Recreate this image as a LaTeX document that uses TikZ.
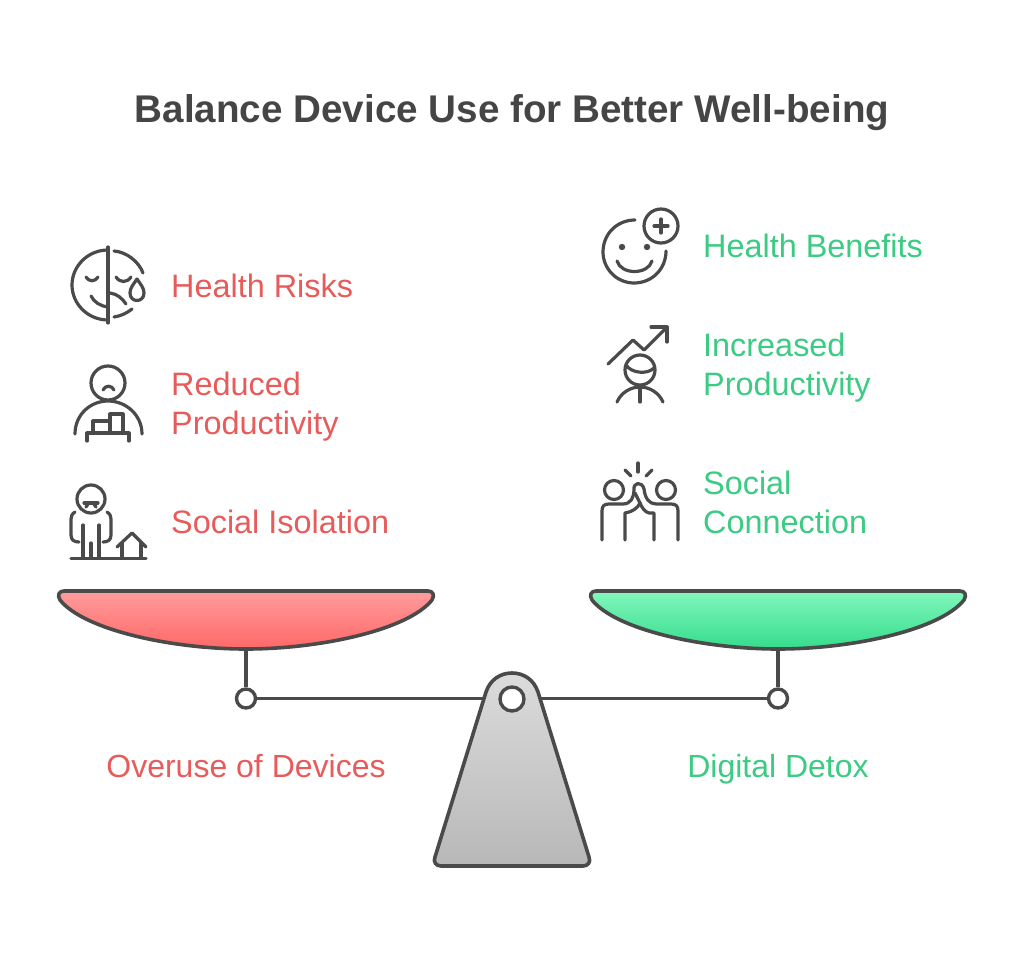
\documentclass[tikz,border=0pt]{standalone}
\usepackage{fontspec}
\usepackage{xcolor}
\setmainfont{Liberation Sans}
\definecolor{linegray}{HTML}{4A4A4A}
\definecolor{titlegray}{HTML}{454545}
\definecolor{riskred}{HTML}{E85B5B}
\definecolor{gaingreen}{HTML}{3CCB82}
\tikzset{
  label/.style={anchor=west,align=left,inner sep=0pt,font=\fontsize{32.4}{39}\selectfont},
  risk/.style={label,text=riskred},
  gain/.style={label,text=gaingreen},
  caption/.style={anchor=base,inner sep=0pt,font=\fontsize{32}{39}\selectfont},
  icon/.style={draw=linegray,line width=3.2pt,line cap=round,line join=round},
  rim/.style={draw=linegray,line width=3.6pt,line join=round},
  pin/.style={circle,draw=linegray,line width=3.4pt,fill=white,minimum size=19pt,inner sep=0pt},
}
\begin{document}
\begin{tikzpicture}[x=1pt,y=-1pt]
  \useasboundingbox[fill=white] (0,0) rectangle (1024,963);
  \node[anchor=base,inner sep=0pt,text=titlegray,font=\fontsize{38.6}{44}\selectfont\bfseries] (title) at (512,122) {Balance Device Use for Better Well-being};

  % left labels
  \node[risk] (healthrisks) at (171,285.5) {Health Risks};
  \node[risk] (reduced) at (171,407) {Reduced\\Productivity};
  \node[risk] (isolation) at (171,522) {Social Isolation};
  % right labels
  \node[gain] (healthbenefits) at (703,246) {Health Benefits};
  \node[gain] (increased) at (703,368) {Increased\\Productivity};
  \node[gain] (connection) at (703,502) {Social\\Connection};
  \node[caption,text=riskred] (overuse) at (246,777) {Overuse of Devices};
  \node[caption,text=gaingreen] (detox) at (778,777) {Digital Detox};

  % beam and fulcrum
  \coordinate (leftpan) at (246,649);
  \coordinate (rightpan) at (778,649);
  \node[pin] (leftpin) at (246,698.5) {};
  \node[pin] (rightpin) at (778,698.5) {};
  \draw[rim] (leftpin) -- (rightpin);
  \draw[rim] (leftpan) -- (leftpin);
  \draw[rim] (rightpan) -- (rightpin);
  \draw[rim,top color=black!14,bottom color=black!28] (486,692)
    .. controls (490,680) and (500,673) .. (512,673)
    .. controls (524,673) and (534,680) .. (538,692)
    -- (589,857) .. controls (591,862) and (588,866) .. (583,866)
    -- (441,866) .. controls (436,866) and (433,862) .. (435,857) -- cycle;
  \node[pin,minimum size=24pt] (hole) at (512,699) {};

  % pans
  \foreach \dx/\topc/\botc in {0/FF9C9C/FF6868,532/82F7BC/34DC8C} {
    \definecolor{pantop}{HTML}{\topc}
    \definecolor{panbot}{HTML}{\botc}
    \draw[rim,xshift=\dx pt,top color=pantop,bottom color=panbot] (64,591) -- (428,591)
      .. controls (433,591) and (435,595) .. (432,600)
      .. controls (408,630) and (320,649) .. (246,649)
      .. controls (172,649) and (84,630) .. (60,600)
      .. controls (57,595) and (59,591) .. (64,591) -- cycle;
  }

  % health risks
  \draw[icon] (108,247) -- (108,323);
  \draw[icon] (108,250) .. controls (88,250) and (72,266) .. (72,285)
    .. controls (72,304) and (88,320) .. (108,320);
  \draw[icon] (114,251) .. controls (127,252) and (139,262) .. (143,273);
  \draw[icon] (114,317) .. controls (121,316) and (127,313) .. (132,309);
  \draw[icon] (86,277) .. controls (89,282) and (95,282) .. (98,277);
  \draw[icon] (116,277) .. controls (120,283) and (127,283) .. (131,277);
  \draw[icon] (91,296) .. controls (94,302) and (100,306) .. (108,307);
  \draw[icon] (110,293) .. controls (117,294) and (122,298) .. (126,304);
  \draw[icon] (137,279) .. controls (133,285) and (130,288) .. (130,293)
    .. controls (130,303) and (144,303) .. (144,293)
    .. controls (144,288) and (141,285) .. (137,279) -- cycle;

  % reduced productivity
  \draw[icon] (108,383) circle (17);
  \draw[icon] (103,390) .. controls (105,385) and (112,385) .. (114,390);
  \draw[icon] (75,434) .. controls (75,415) and (90,401) .. (108,401)
    .. controls (126,401) and (142,415) .. (142,434);
  \draw[icon] (87,441) -- (87,433) -- (129,433) -- (129,441);
  \draw[icon] (93,433) -- (93,421) -- (110,421);
  \draw[icon] (110,433) -- (110,414) -- (123,414) -- (123,433);

  % social isolation
  \draw[icon] (91,499) circle (14);
  \draw[icon] (84,503) -- (98,503);
  \draw[icon] (86,507) -- (88,504) (96,507) -- (94,504);
  \draw[icon] (75,512) .. controls (72,514) and (71,516) .. (71,519) -- (71,535)
    .. controls (71,540) and (74,542) .. (79,542);
  \draw[icon] (107,512) .. controls (110,514) and (111,516) .. (111,519) -- (111,535)
    .. controls (111,540) and (108,542) .. (103,542);
  \draw[icon] (83,525) -- (83,558);
  \draw[icon] (99,525) -- (99,558);
  \draw[icon] (91,543) -- (91,558);
  \draw[icon] (71,558.5) -- (146,558.5);
  \draw[icon] (117,547) -- (132,533) -- (146,547);
  \draw[icon] (122,543) -- (122,558);
  \draw[icon] (141,543) -- (141,558);

  % health benefits
  \draw[icon] (635,220) .. controls (617,220) and (603,234) .. (603,252)
    .. controls (603,269) and (617,283) .. (634,283)
    .. controls (652,283) and (666,269) .. (666,251);
  \fill[linegray] (622,247) circle (3.2);
  \fill[linegray] (647,247) circle (3.2);
  \draw[icon] (617,261) .. controls (621,275) and (648,275) .. (652,261);
  \draw[icon] (661,226) circle (17);
  \draw[icon] (654,226) -- (668,226);
  \draw[icon] (661,219) -- (661,233);

  % increased productivity
  \draw[icon] (608,364) -- (633,340) -- (644,350) -- (667,327);
  \draw[icon] (651,327) -- (667,327) -- (667,342);
  \draw[icon] (640,370) circle (15);
  \draw[icon] (626,365) .. controls (631,373) and (647,375) .. (654,368);
  \draw[icon] (617,402) .. controls (621,393) and (630,387) .. (640,387)
    .. controls (650,387) and (659,393) .. (663,402);
  \draw[icon] (640,387) -- (640,402);

  % social connection
  \draw[icon] (614,490) circle (9.5);
  \draw[icon] (666,490) circle (9.5);
  \draw[icon] (638,463) -- (638,472);
  \draw[icon] (625,470) -- (631,476);
  \draw[icon] (652,470) -- (646,476);
  \draw[icon] (602,540) -- (602,511) .. controls (602,506) and (604,504) .. (609,504)
    -- (623,504) .. controls (631,504) and (634,497) .. (634,490)
    .. controls (633,482) and (642,481) .. (644,489)
    .. controls (645,498) and (649,504) .. (656,504)
    -- (671,504) .. controls (676,504) and (678,506) .. (678,511) -- (678,540);
  \draw[icon] (625,540) -- (625,513) .. controls (632,512) and (638,508) .. (640,503) -- (635,493);
  \draw[icon] (654,540) -- (654,513) -- (649,513) .. controls (645,512) and (642,508) .. (640,503);
\end{tikzpicture}
\end{document}
